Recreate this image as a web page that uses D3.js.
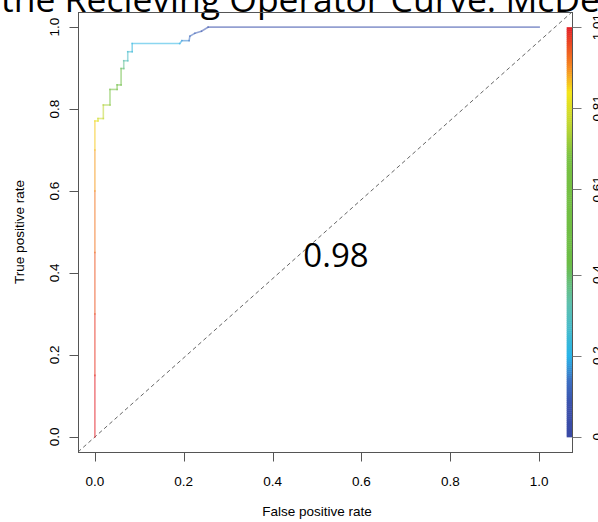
<!DOCTYPE html>
<html>
<head>
<meta charset="utf-8">
<script src="https://cdn.jsdelivr.net/npm/d3@7"></script>
<style>
  body { margin: 0; background: #fff; }
  svg { display: block; }
</style>
</head>
<body>
<div id="chart"></div>
<script>
(function () {
    var width = 598, height = 522;

    // ROC operating points (false positive rate, true positive rate, cutoff)
    var fpr = [0, 0, 0, 0, 0, 0, 0, 0.007, 0.007, 0.019, 0.019, 0.034, 0.034, 0.05, 0.05, 0.059, 0.059,
               0.065, 0.065, 0.074, 0.074, 0.084, 0.084, 0.191, 0.196, 0.212, 0.214, 0.225, 0.24, 0.255, 1];
    var tpr = [0, 0.15, 0.3, 0.45, 0.6, 0.7, 0.771, 0.771, 0.777, 0.777, 0.81, 0.81, 0.848, 0.848, 0.859, 0.859, 0.899,
               0.899, 0.918, 0.918, 0.94, 0.94, 0.96, 0.96, 0.967, 0.967, 0.978, 0.985, 0.99, 1, 1];
    var cutoff = [1.01, 0.99, 0.96, 0.93, 0.9, 0.87, 0.83, 0.81, 0.79, 0.77, 0.74, 0.69, 0.62, 0.55, 0.5, 0.45, 0.4,
                  0.36, 0.32, 0.28, 0.25, 0.23, 0.21, 0.19, 0.16, 0.14, 0.12, 0.1, 0.09, 0.08, 0];

    var xTicks = [0, 0.2, 0.4, 0.6, 0.8, 1.0];
    var yTicks = [0, 0.2, 0.4, 0.6, 0.8, 1.0];
    var cutTicks = ["0", "0.2", "0.4", "0.61", "0.81", "1.01"];

    var aucText = "0.98";
    var titleText = "the Recieving Operator Curve: McDe";

    // palette of the cutoff colour bar
    var paletteStops = [0, 0.08, 0.14, 0.2, 0.33, 0.43, 0.69, 0.76, 0.85, 0.91, 1.01];
    var paletteColors = ["#3a4aa5", "#3b50ab", "#3c70c2", "#28b4e9", "#5fc0ae", "#6cbd46",
                         "#79c142", "#b8d434", "#f5e61b", "#f68b1f", "#e41f26"];

    var svg = d3.select("#chart")
        .append("svg")
        .attr("width", width)
        .attr("height", height);

    var x = d3.scaleLinear().domain([-0.038, 1.074]).range([78, 572]);
    var y = d3.scaleLinear().domain([-0.037, 1.037]).range([452, 12]);
    var color = d3.scaleLinear().domain(paletteStops).range(paletteColors);
    // cutoff axis of the colour bar, drawn against the y positions
    var cutY = d3.scaleLinear().domain([0, 1.01]).range([y(0), y(1)]);

    var labelFont = "Liberation Sans, Arial, sans-serif";

    // title (runs off the top of the image)
    svg.append("text")
        .attr("x", 1)
        .attr("y", 12)
        .attr("font-family", "Open Sans, Noto Sans, sans-serif")
        .attr("font-size", 35.5)
        .attr("fill", "#000")
        .text(titleText);

    // diagonal
    svg.append("line")
        .attr("x1", x(x.domain()[0])).attr("y1", y(y.domain()[0]))
        .attr("x2", x(x.domain()[1])).attr("y2", y(y.domain()[1]))
        .attr("stroke", "#666")
        .attr("stroke-width", 1)
        .attr("stroke-dasharray", "4,3");

    // colour bar
    var barSteps = d3.range(0, 200).map(function (i) { return i / 200 * 1.01; });
    svg.append("g").selectAll("rect")
        .data(barSteps)
        .enter().append("rect")
        .attr("x", x(1.062))
        .attr("width", x(1.074) - x(1.062))
        .attr("y", function (d) { return cutY(d + 1.01 / 200); })
        .attr("height", function (d) { return cutY(d) - cutY(d + 1.01 / 200) + 0.5; })
        .attr("fill", function (d) { return color(d + 0.5 * 1.01 / 200); });

    // ROC curve, one segment per pair of points, coloured by cutoff
    var pts = fpr.map(function (f, i) { return { f: f, t: tpr[i], c: cutoff[i] }; });
    svg.append("g").selectAll("line")
        .data(d3.pairs(pts))
        .enter().append("line")
        .attr("x1", function (d) { return x(d[0].f); })
        .attr("y1", function (d) { return y(d[0].t); })
        .attr("x2", function (d) { return x(d[1].f); })
        .attr("y2", function (d) { return y(d[1].t); })
        .attr("stroke", function (d) { return color(d[0].c); })
        .attr("stroke-opacity", 0.55)
        .attr("stroke-width", 1.6)
        .attr("stroke-linecap", "square");

    // box
    svg.append("rect")
        .attr("x", x.range()[0] + 0.5)
        .attr("y", y.range()[1] + 0.5)
        .attr("width", x.range()[1] - x.range()[0])
        .attr("height", y.range()[0] - y.range()[1])
        .attr("fill", "none")
        .attr("stroke", "#555");

    // x axis
    var gx = svg.append("g").attr("transform", "translate(0," + (y.range()[0] + 0.5) + ")");
    gx.selectAll("line").data(xTicks).enter().append("line")
        .attr("x1", function (d) { return Math.round(x(d)) + 0.5; })
        .attr("x2", function (d) { return Math.round(x(d)) + 0.5; })
        .attr("y1", 0).attr("y2", 9)
        .attr("stroke", "#555");
    gx.selectAll("text").data(xTicks).enter().append("text")
        .attr("x", function (d) { return x(d); })
        .attr("y", 33)
        .attr("text-anchor", "middle")
        .attr("font-family", labelFont)
        .attr("font-size", 13.5)
        .text(function (d) { return d.toFixed(1); });

    // y axis
    var gy = svg.append("g").attr("transform", "translate(" + (x.range()[0] + 0.5) + ",0)");
    gy.selectAll("line").data(yTicks).enter().append("line")
        .attr("y1", function (d) { return Math.round(y(d)) + 0.5; })
        .attr("y2", function (d) { return Math.round(y(d)) + 0.5; })
        .attr("x1", 0).attr("x2", -9)
        .attr("stroke", "#555");
    gy.selectAll("text").data(yTicks).enter().append("text")
        .attr("transform", function (d) { return "translate(-20," + y(d) + ") rotate(-90)"; })
        .attr("text-anchor", "middle")
        .attr("font-family", labelFont)
        .attr("font-size", 13.5)
        .text(function (d) { return d.toFixed(1); });

    // cutoff axis on the right
    var gc = svg.append("g").attr("transform", "translate(" + (x.range()[1] + 0.5) + ",0)");
    gc.selectAll("line").data(cutTicks).enter().append("line")
        .attr("y1", function (d) { return Math.round(cutY(+d)) + 0.5; })
        .attr("y2", function (d) { return Math.round(cutY(+d)) + 0.5; })
        .attr("x1", 0).attr("x2", 9)
        .attr("stroke", "#777");
    gc.selectAll("text").data(cutTicks).enter().append("text")
        .attr("transform", function (d) { return "translate(29," + cutY(+d) + ") rotate(-90)"; })
        .attr("text-anchor", "middle")
        .attr("font-family", labelFont)
        .attr("font-size", 13.5)
        .text(function (d) { return d; });

    // axis titles
    svg.append("text")
        .attr("x", x(0.5))
        .attr("y", 516)
        .attr("text-anchor", "middle")
        .attr("font-family", labelFont)
        .attr("font-size", 13.5)
        .text("False positive rate");
    svg.append("text")
        .attr("transform", "translate(24," + ((y.range()[0] + y.range()[1]) / 2) + ") rotate(-90)")
        .attr("text-anchor", "middle")
        .attr("font-family", labelFont)
        .attr("font-size", 13.5)
        .text("True positive rate");

    // AUC in the middle
    svg.append("text")
        .attr("x", 336)
        .attr("y", 267)
        .attr("text-anchor", "middle")
        .attr("font-family", "Open Sans, Noto Sans, sans-serif")
        .attr("font-size", 33)
        .text(aucText);
})();
</script>
</body>
</html>
